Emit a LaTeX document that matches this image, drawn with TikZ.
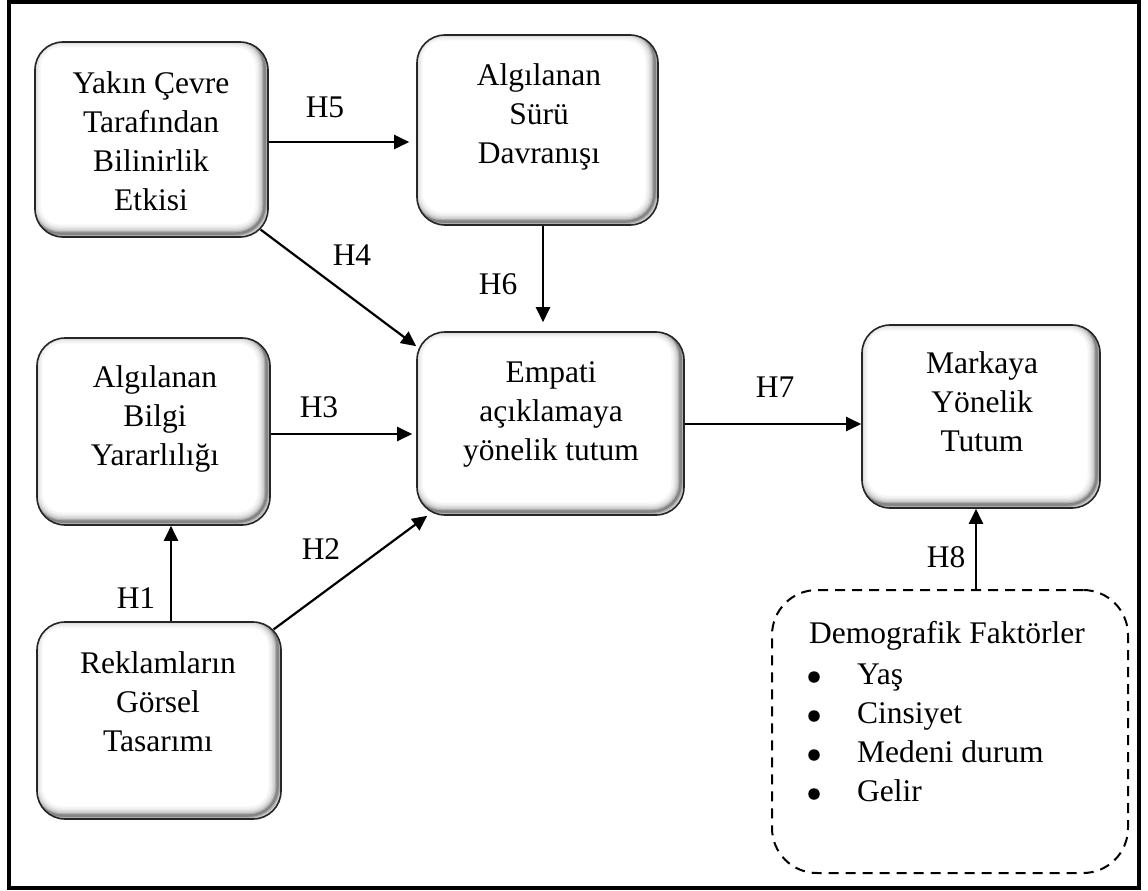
\documentclass[tikz,border=0pt]{standalone}
\usepackage{fontspec}
\setmainfont{Liberation Serif}
\usetikzlibrary{arrows.meta,calc}
\tikzset{
  box/.style={draw=black!85, line width=1.6pt, rounded corners=28pt, fill=white, inner sep=0pt,
    path picture={\foreach \w/\c in {18/4,14/8,11/13,8/20,5/32,2.5/48}{
      \draw[line width=\w pt, black!\c, rounded corners=28pt]
        ([shift={(-3.5pt,3.5pt)}]path picture bounding box.south west) rectangle
        ([shift={(-3.5pt,3.5pt)}]path picture bounding box.north east);}}},
  demobox/.style={draw=black, line width=2pt, dash pattern=on 10pt off 7pt, rounded corners=45pt, inner sep=0pt},
  txt/.style={font=\fontsize{31.5}{39}\selectfont, align=center, anchor=north, inner sep=0pt},
  lbl/.style={font=\fontsize{31.5}{39}\selectfont, anchor=base, inner sep=0pt},
  lst/.style={font=\fontsize{31.5}{39}\selectfont, anchor=base west, inner sep=0pt},
  dot/.style={circle, fill=black, inner sep=0pt, minimum size=11.5pt},
  arr/.style={line width=2.2pt, -{Triangle[length=15pt,width=14pt]}},
  frame/.style={draw=black, line width=4pt},
}
\begin{document}
\begin{tikzpicture}[x=1pt,y=-1pt]
\useasboundingbox (0,0) rectangle (1148,891);
\draw[frame] (9,2) rectangle (1139,888);

% boxes
\node[box, minimum width=233pt, minimum height=195pt] (yakin) at (151.5,139.5) {};
\node[box, minimum width=241pt, minimum height=190pt] (suru) at (537.5,130) {};
\node[box, minimum width=233pt, minimum height=187pt] (bilgi) at (153.5,431.5) {};
\node[box, minimum width=244pt, minimum height=197pt] (rek) at (159,720.5) {};
\node[box, minimum width=267pt, minimum height=183pt] (emp) at (550.5,423.5) {};
\node[box, minimum width=238pt, minimum height=183pt] (mark) at (981,416.5) {};
\node[demobox, minimum width=356pt, minimum height=283pt] (demo) at (950,731.5) {};

% box texts
\node[txt] (tyakin) at (151,65.7) {\strut Yakın Çevre\\Tarafından\\Bilinirlik\\Etkisi};
\node[txt] (tsuru) at (539,57.7) {\strut Algılanan\\Sürü\\Davranışı};
\node[txt] (tbilgi) at (155,359.7) {\strut Algılanan\\Bilgi\\Yararlılığı};
\node[txt] (trek) at (158,645.7) {\strut Reklamların\\Görsel\\Tasarımı};
\node[txt] (temp) at (551,354.7) {\strut Empati\\açıklamaya\\yönelik tutum};
\node[txt] (tmark) at (982,345.7) {\strut Markaya\\Yönelik\\Tutum};

% demographic list
\node[lst] (dtitle) at (809,643) {Demografik Faktörler};
\node[dot] (b1) at (814,677) {};
\node[dot] (b2) at (814,716) {};
\node[dot] (b3) at (814,755) {};
\node[dot] (b4) at (814,794) {};
\node[lst] (i1) at (857,684) {Yaş};
\node[lst] (i2) at (857,723) {Cinsiyet};
\node[lst] (i3) at (857,762) {Medeni durum};
\node[lst] (i4) at (857,801) {Gelir};

% connectors
\draw[arr, shorten >=7pt] ([yshift=-2.5pt]yakin.east) -- ([yshift=-2.5pt]yakin.east -| suru.west);
\draw[arr, shorten >=9pt] ([xshift=5.5pt]suru.south) -- ([xshift=5.5pt]suru.south |- emp.north);
\draw[arr] ($(yakin.south east)+(-8.2,-8.2)$) -- ($(emp.north west)+(0,15)$);
\draw[arr, shorten >=4pt] ([yshift=-2.5pt]bilgi.east) -- ([yshift=-2.5pt]bilgi.east -| emp.west);
\draw[arr] ($(rek.north east)+(-8.2,8.2)$) -- ($(emp.south west)+(11,0)$);
\draw[arr] ([xshift=12pt]rek.north) -- ([xshift=12pt]rek.north |- bilgi.south);
\draw[arr] ([yshift=-0.5pt]emp.east) -- ([yshift=-0.5pt]emp.east -| mark.west);
\draw[arr] ([xshift=26pt]demo.north) -- ([xshift=26pt]demo.north |- mark.south);

% hypothesis labels
\node[lbl] (h5) at (325,117) {H5};
\node[lbl] (h4) at (352,265) {H4};
\node[lbl] (h6) at (498,294) {H6};
\node[lbl] (h3) at (319,417) {H3};
\node[lbl] (h2) at (321,559) {H2};
\node[lbl] (h1) at (136,608) {H1};
\node[lbl] (h7) at (775,397) {H7};
\node[lbl] (h8) at (946,567) {H8};
\end{tikzpicture}
\end{document}
